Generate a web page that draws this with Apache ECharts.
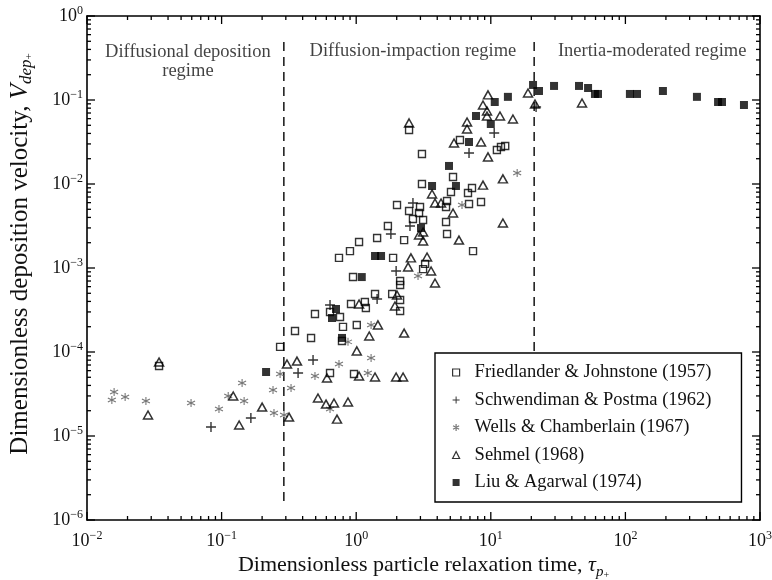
<!DOCTYPE html>
<html>
<head>
<meta charset="utf-8">
<script src="https://cdn.jsdelivr.net/npm/echarts@6/dist/echarts.min.js"></script>
<style>html,body{margin:0;padding:0;background:#fff}#c{width:772px;height:580px}</style>
</head>
<body>
<div id="c"></div>
<script>
// ---------------- DATA ----------------
const seriesNames = [
  'Friedlander & Johnstone (1957)',
  'Schwendiman & Postma (1962)',
  'Wells & Chamberlain (1967)',
  'Sehmel (1968)',
  'Liu & Agarwal (1974)'
];

// [tau_p+, V_dep+]
const friedlander = [
  [0.0343,6.8e-5],[0.272,1.15e-4],[0.351,1.78e-4],[0.462,1.47e-4],[0.494,2.83e-4],[0.639,2.99e-4],
  [0.758,2.61e-4],[0.798,1.99e-4],[0.784,1.35e-4],[0.639,5.63e-5],[0.915,3.73e-4],[1.01,2.1e-4],
  [1.16,3.94e-4],[1.18,3.34e-4],[0.963,5.47e-5],[0.947,7.8e-4],[2.12,7.0e-4],[2.12,6.28e-4],
  [1.38,4.9e-4],[1.85,4.9e-4],[2.12,4.16e-4],[2.12,3.08e-4],[0.745,1.32e-3],[0.899,1.59e-3],
  [1.05,2.04e-3],[1.43,2.28e-3],[1.72,3.16e-3],[1.88,1.32e-3],[2.27,2.15e-3],[2.01,5.62e-3],
  [2.47,4.77e-3],[2.98,5.33e-3],[2.93,4.52e-3],[2.64,3.83e-3],[3.14,3.73e-3],[3.25,1.12e-3],
  [3.14,9.7e-4],[4.65,3.53e-3],[4.73,2.54e-3],[4.73,6.28e-3],[4.65,5.33e-3],[6.89,5.78e-3],
  [8.46,6.11e-3],[7.38,1.59e-3],[3.08,1.0e-2],[5.06,8.03e-3],[6.77,7.8e-3],[7.25,8.96e-3],
  [5.24,1.21e-2],[3.08,2.28e-2],[2.47,4.39e-2],[5.9,3.34e-2],[11.1,2.54e-2],[11.9,2.76e-2],
  [12.8,2.83e-2]
];
const schwendiman = [
  [0.0834,1.28e-5],[0.165,1.64e-5],[0.37,5.63e-5],[0.478,8.03e-5],[0.639,3.63e-4],[1.43,4.28e-4],
  [1.98,9.2e-4],[1.81,2.54e-3],[2.51,3.16e-3],[2.64,5.94e-3],[6.89,2.34e-2],[10.6,4.05e-2],
  [21.7,8.25e-2]
];
const wells = [
  [0.0153,2.68e-5],[0.0159,3.34e-5],[0.0192,2.91e-5],[0.0274,2.61e-5],[0.0593,2.47e-5],[0.0956,2.1e-5],
  [0.112,2.99e-5],[0.142,4.28e-5],[0.147,2.61e-5],[0.241,3.53e-5],[0.245,1.88e-5],[0.272,5.47e-5],
  [0.291,1.78e-5],[0.328,3.73e-5],[0.494,5.18e-5],[0.745,7.2e-5],[0.869,1.32e-4],[1.29,2.1e-4],
  [1.29,8.48e-5],[1.22,5.63e-5],[0.639,2.1e-5],[2.88,8.03e-4],[6.11,5.62e-3],[15.7,1.35e-2]
];
const sehmel = [
  [0.0343,7.6e-5],[0.0284,1.78e-5],[0.122,2.99e-5],[0.2,2.21e-5],[0.135,1.35e-5],[0.317,1.68e-5],
  [0.306,7.2e-5],[0.363,7.8e-5],[0.52,2.83e-5],[0.597,2.4e-5],[0.684,2.47e-5],[0.869,2.54e-5],
  [0.72,1.59e-5],[1.01,1.03e-4],[0.607,4.9e-5],[1.05,5.18e-5],[1.38,5.04e-5],[1.98,5.04e-5],
  [2.23,5.04e-5],[1.25,1.55e-4],[1.45,2.1e-4],[2.27,1.68e-4],[1.05,3.73e-4],[2.01,4.77e-4],
  [1.94,3.53e-4],[2.55,1.32e-3],[2.43,1.03e-3],[3.36,1.35e-3],[3.6,9.2e-4],[3.85,6.63e-4],
  [2.93,2.47e-3],[3.14,2.1e-3],[3.14,2.68e-3],[3.66,7.6e-3],[3.85,5.94e-3],[4.27,5.94e-3],
  [5.24,4.52e-3],[5.8,2.15e-3],[8.75,9.7e-3],[12.3,1.15e-2],[12.3,3.43e-3],[2.47,5.33e-2],
  [6.66,5.47e-2],[6.66,4.52e-2],[5.33,3.08e-2],[8.46,3.16e-2],[9.53,2.1e-2],[9.53,0.115],
  [8.75,8.72e-2],[9.37,7.4e-2],[9.37,6.45e-2],[11.7,6.45e-2],[14.6,5.94e-2],[18.9,0.121],
  [21.3,8.96e-2],[47.6,9.2e-2]
];
const liu = [
  [0.214,5.78e-5],[0.708,3.25e-4],[0.661,2.54e-4],[0.784,1.47e-4],[1.1,7.8e-4],[1.38,1.39e-3],
  [1.53,1.39e-3],[3.03,2.99e-3],[3.66,9.47e-3],[5.51,9.47e-3],[4.89,1.64e-2],[6.89,3.16e-2],
  [7.76,6.45e-2],[10.0,5.18e-2],[10.7,9.47e-2],[13.4,0.109],[20.6,0.151],[22.8,0.128],
  [29.5,0.147],[45.2,0.147],[52.8,0.139],[59.4,0.118],[62.6,0.118],[108,0.118],[122,0.118],
  [190,0.128],[340,0.109],[488,0.0947],[522,0.0947],[760,0.0872]
];

// regime boundaries (tau_p+) and vertical extent of the dashed lines (V_dep+)
const regimeBoundaries = [0.29, 21];
const boundaryExtent = [0.49, 1.6e-6];

// regime labels
const regimeLabels = ['Diffusional deposition\nregime', 'Diffusion-impaction regime', 'Inertia-moderated regime'];
const regimeAnchors = [[0.0562, 0.29], [2.64, 0.383], [158, 0.383]];

// axis ticks
const xTickValues = [0.01, 0.1, 1, 10, 100, 1000];
const yTickValues = [1e-6, 1e-5, 1e-4, 1e-3, 1e-2, 1e-1, 1];

// ---------------- CHART ----------------
function minorOf(majors) {
  const out = [];
  for (let i = 0; i < majors.length - 1; i++)
    for (let m = 2; m <= 9; m++) out.push(Number((m * majors[i]).toPrecision(3)));
  return out;
}
const xMinor = minorOf(xTickValues);
const yMinor = minorOf(yTickValues);
const xMin = xTickValues[0], xMax = xTickValues[xTickValues.length - 1];
const yMin = yTickValues[0], yMax = yTickValues[yTickValues.length - 1];

const FONT = '"Liberation Serif", "Times New Roman", Times, serif';
const INK = '#111';

function powLabel(v) {
  const e = Math.round(Math.log10(v));
  return '{b|10}{s|' + (e < 0 ? '\u2212' + (-e) : String(e)) + '}';
}
const tickRich = {
  b: { fontFamily: FONT, fontSize: 18, lineHeight: 22, color: INK },
  s: { fontFamily: FONT, fontSize: 12, lineHeight: 12, verticalAlign: 'top', color: INK }
};
function nameRich(fs) {
  return {
    pad: { width: 28, height: 1 },
    r: { fontFamily: FONT, fontSize: fs, lineHeight: 30, color: INK },
    i: { fontFamily: FONT, fontSize: fs, lineHeight: 30, fontStyle: 'italic', color: INK },
    sb: { fontFamily: FONT, fontSize: Math.round(fs * 0.68), lineHeight: 17, fontStyle: 'italic', verticalAlign: 'bottom', color: INK },
    ss: { fontFamily: FONT, fontSize: Math.round(fs * 0.45), lineHeight: 8, verticalAlign: 'bottom', color: INK }
  };
}

function makeAxis(dim, pos, labelled) {
  const isX = dim === 'x';
  const ax = {
    type: 'log', logBase: 10,
    min: isX ? xMin : yMin, max: isX ? xMax : yMax,
    position: pos, gridIndex: 0, silent: true,
    axisLine: { show: true, onZero: false, lineStyle: { color: '#000', width: 1.6 } },
    axisTick: { show: false },
    axisLabel: { show: false },
    splitLine: { show: false },
    minorTick: { show: false },
    minorSplitLine: { show: false }
  };
  if (labelled) {
    ax.axisLabel = {
      show: true, customValues: isX ? xTickValues : yTickValues,
      formatter: powLabel, rich: tickRich, margin: isX ? 10 : 4,
      showMinLabel: true, showMaxLabel: true, hideOverlap: false
    };
    ax.nameLocation = 'middle';
    ax.nameMoveOverlap = false;
    if (isX) {
      ax.name = '{r|Dimensionless particle relaxation time, }{i|\u03c4}{sb|p}{ss|+}';
      ax.nameGap = 30;
      ax.nameTextStyle = { fontFamily: FONT, color: INK, rich: nameRich(22) };
    } else {
      ax.name = '{pad|}{r|Dimensionless deposition velocity, }{i|V}{sb|dep}{ss|+}';
      ax.nameGap = 52;
      ax.nameRotate = 90;
      ax.nameTextStyle = { fontFamily: FONT, color: INK, rich: nameRich(25) };
    }
  }
  return ax;
}

// tick marks drawn through the axes' own scales (inside, on all four sides)
function tickSeries(values, isX, len) {
  return {
    type: 'custom', silent: true, z: 6, clip: false,
    data: values.map(v => isX ? [v, yMin] : [xMin, v]),
    renderItem: function (params, api) {
      const st = { stroke: '#000', lineWidth: 1.3 };
      if (isX) {
        const v = api.value(0);
        const a = api.coord([v, yMin]), b = api.coord([v, yMax]);
        return { type: 'group', children: [
          { type: 'line', shape: { x1: a[0], y1: a[1], x2: a[0], y2: a[1] - len }, style: st },
          { type: 'line', shape: { x1: b[0], y1: b[1], x2: b[0], y2: b[1] + len }, style: st }
        ] };
      }
      const v = api.value(1);
      const a = api.coord([xMin, v]), b = api.coord([xMax, v]);
      return { type: 'group', children: [
        { type: 'line', shape: { x1: a[0], y1: a[1], x2: a[0] + len, y2: a[1] }, style: st },
        { type: 'line', shape: { x1: b[0], y1: b[1], x2: b[0] - len, y2: b[1] }, style: st }
      ] };
    }
  };
}

const plusPath = 'path://M4.3,0H5.7V4.3H10V5.7H5.7V10H4.3V5.7H0V4.3H4.3Z';
const starPath = 'path://M5,0V10M0.67,2.5L9.33,7.5M0.67,7.5L9.33,2.5';
const clear = 'rgba(0,0,0,0)';

const chart = echarts.init(document.getElementById('c'), null, { renderer: 'canvas' });

const series = [];
regimeBoundaries.forEach((t, i) => {
  series.push({
    type: 'line', name: 'boundary' + i, silent: true, symbol: 'none', z: 1,
    data: [[t, boundaryExtent[0]], [t, boundaryExtent[1]]],
    lineStyle: { color: '#222', width: 1.6, type: [9, 6] }
  });
});
series.push({
  type: 'scatter', name: 'regimes', silent: true, symbolSize: 1, z: 1,
  itemStyle: { color: clear },
  data: regimeLabels.map((s, i) => ({ name: s, value: regimeAnchors[i] })),
  label: {
    show: true, position: 'inside', formatter: p => p.name,
    fontFamily: FONT, fontSize: 18.5, lineHeight: 19, color: INK, align: 'center'
  }
});
series.push(
  tickSeries(xTickValues, true, 8), tickSeries(xMinor, true, 4),
  tickSeries(yTickValues, false, 8), tickSeries(yMinor, false, 4)
);
series.push(
  { type: 'scatter', name: seriesNames[0], data: friedlander, symbol: 'rect', symbolSize: 7,
    itemStyle: { color: clear, borderColor: '#000', borderWidth: 1.4 } },
  { type: 'scatter', name: seriesNames[1], data: schwendiman, symbol: plusPath, symbolSize: 10,
    itemStyle: { color: '#000' } },
  { type: 'scatter', name: seriesNames[2], data: wells, symbol: starPath, symbolSize: 8,
    itemStyle: { color: clear, borderColor: '#555', borderWidth: 1.1 } },
  { type: 'scatter', name: seriesNames[3], data: sehmel, symbol: 'triangle', symbolSize: [9, 8],
    itemStyle: { color: clear, borderColor: '#000', borderWidth: 1.5 } },
  { type: 'scatter', name: seriesNames[4], data: liu, symbol: 'rect', symbolSize: 8,
    itemStyle: { color: '#000' } }
);
series.forEach(s => { s.xAxisIndex = 0; s.yAxisIndex = 0; s.animation = false; });

chart.setOption({
  animation: false,
  backgroundColor: '#fff',
  textStyle: { fontFamily: FONT, color: INK },
  grid: { left: 87, right: 12, top: 16, bottom: 60, containLabel: false, outerBoundsMode: 'none' },
  xAxis: [ makeAxis('x', 'bottom', true), makeAxis('x', 'top', false) ],
  yAxis: [ makeAxis('y', 'left', true), makeAxis('y', 'right', false) ],
  legend: {
    data: seriesNames, orient: 'vertical', left: 435, top: 353,
    padding: [10, 30, 10, 17], itemGap: 8.5, itemWidth: 7, itemHeight: 7,
    backgroundColor: '#fff', borderColor: '#000', borderWidth: 1.4, borderRadius: 0,
    selectedMode: false,
    itemStyle: { borderWidth: 1.2 },
    textStyle: { fontFamily: FONT, fontSize: 18.5, lineHeight: 18, color: INK, padding: [0, 0, 0, 10] }
  },
  tooltip: { show: false },
  series: series
});
</script>
</body>
</html>
